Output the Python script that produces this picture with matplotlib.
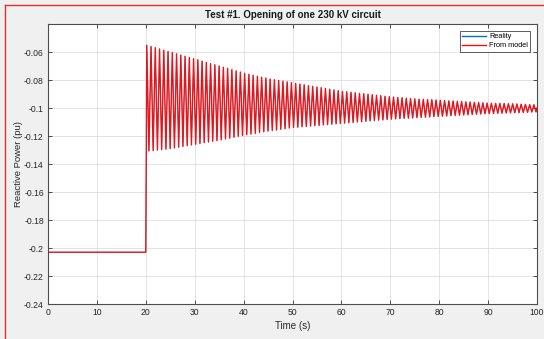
import matplotlib
matplotlib.use("Agg")
import matplotlib.pyplot as plt
from matplotlib.lines import Line2D

plt.rcParams['font.family'] = ['Liberation Sans', 'DejaVu Sans']

# Steady state before the circuit opens
pre_time = [0.0, 20.0]
pre_value = [-0.203, -0.203]

# Oscillation after the opening: one crest and one trough per swing
swing_start = 20.2     # time of the first crest (s)
swing_period = 0.87    # seconds per swing
end_time = 100.0
end_value = -0.1000

crest_values = [
    -0.0552, -0.0561, -0.0569, -0.0578, -0.0587, -0.0596,
    -0.0604, -0.0613, -0.0622, -0.0630, -0.0639, -0.0648,
    -0.0656, -0.0665, -0.0674, -0.0683, -0.0691, -0.0700,
    -0.0709, -0.0717, -0.0726, -0.0735, -0.0743,
    -0.0752, -0.0759, -0.0766, -0.0773, -0.0780, -0.0786,
    -0.0793, -0.0798, -0.0803, -0.0808, -0.0813, -0.0819,
    -0.0824, -0.0829, -0.0834, -0.0840, -0.0845,
    -0.0850, -0.0855, -0.0860, -0.0866, -0.0871, -0.0876,
    -0.0881, -0.0884, -0.0888, -0.0891, -0.0895, -0.0898,
    -0.0902, -0.0905, -0.0909, -0.0912, -0.0916, -0.0919,
    -0.0922, -0.0925, -0.0927, -0.0930, -0.0932, -0.0935,
    -0.0937, -0.0938, -0.0940, -0.0941, -0.0943,
    -0.0945, -0.0947, -0.0949, -0.0950, -0.0952, -0.0953,
    -0.0956, -0.0958, -0.0959, -0.0961, -0.0963, -0.0965,
    -0.0966, -0.0967, -0.0967, -0.0968, -0.0969, -0.0970,
    -0.0971, -0.0973, -0.0974, -0.0976, -0.0977,
]

trough_values = [
    -0.1307, -0.1304, -0.1300, -0.1297, -0.1294, -0.1290,
    -0.1285, -0.1280, -0.1274, -0.1269, -0.1264, -0.1259,
    -0.1254, -0.1248, -0.1243, -0.1238, -0.1233, -0.1227,
    -0.1221, -0.1215, -0.1209, -0.1202, -0.1197,
    -0.1191, -0.1186, -0.1181, -0.1175, -0.1170, -0.1165,
    -0.1161, -0.1157, -0.1152, -0.1148, -0.1143, -0.1139,
    -0.1137, -0.1134, -0.1132, -0.1129, -0.1126,
    -0.1124, -0.1121, -0.1118, -0.1116, -0.1113, -0.1111,
    -0.1108, -0.1105, -0.1103, -0.1100, -0.1098, -0.1095,
    -0.1092, -0.1090, -0.1087, -0.1085, -0.1082, -0.1080,
    -0.1078, -0.1076, -0.1074, -0.1073, -0.1071, -0.1069,
    -0.1067, -0.1066, -0.1064, -0.1062, -0.1060,
    -0.1059, -0.1057, -0.1055, -0.1053, -0.1052, -0.1050,
    -0.1048, -0.1046, -0.1045, -0.1043, -0.1041, -0.1040,
    -0.1039, -0.1038, -0.1037, -0.1036, -0.1035, -0.1034,
    -0.1033, -0.1032, -0.1031, -0.1029, -0.1028,
]

x_ticks = [0, 10, 20, 30, 40, 50, 60, 70, 80, 90, 100]
y_ticks = [-0.24, -0.22, -0.2, -0.18, -0.16, -0.14, -0.12, -0.1, -0.08, -0.06]
y_tick_labels = ['-0.24', '-0.22', '-0.2', '-0.18', '-0.16', '-0.14',
                 '-0.12', '-0.1', '-0.08', '-0.06']

# Assemble the time series: flat part, then alternating crest/trough
time = list(pre_time)
value = list(pre_value)
for i, (c, t) in enumerate(zip(crest_values, trough_values)):
    tc = swing_start + i * swing_period
    time += [tc, tc + swing_period / 2]
    value += [c, t]
time.append(end_time)
value.append(end_value)

reality_time, reality_value = time, value
model_time, model_value = time, value

BLUE = '#0072bd'
RED = '#e8141a'
AX_COLOR = '#4d4d4d'

fig = plt.figure(figsize=(5.44, 3.39), dpi=100, facecolor='#f0f0f0')
ax = fig.add_axes([48 / 544, 1 - 304 / 339, (537 - 48) / 544, (304 - 24) / 339])
ax.set_facecolor('white')

# Measured trace sits underneath; the model trace covers it
ax.plot(reality_time, reality_value, color=BLUE, lw=0.35)
ax.plot(model_time, model_value, color=RED, lw=1.0)

ax.set_xlim(0, 100)
ax.set_ylim(-0.24, -0.04)
ax.set_xticks(x_ticks)
ax.set_xticklabels([str(v) for v in x_ticks])
ax.set_yticks(y_ticks)
ax.set_yticklabels(y_tick_labels)

ax.grid(True, color='#dedede', lw=0.6)
ax.set_axisbelow(True)
for s in ax.spines.values():
    s.set_color(AX_COLOR)
    s.set_linewidth(0.8)
ax.tick_params(direction='in', length=3, width=0.7, color=AX_COLOR,
               labelcolor='#262626', labelsize=6.2, top=True, right=True, pad=3)

ax.set_title('Test #1. Opening of one 230 kV circuit', fontsize=7.0,
             fontweight='bold', color='#1a1a1a', pad=4)
ax.set_xlabel('Time (s)', fontsize=7.0, color='#262626', labelpad=3)
ax.set_ylabel('Reactive Power (pu)', fontsize=6.8, color='#262626', labelpad=1)

handles = [Line2D([], [], color=BLUE, lw=1.0), Line2D([], [], color=RED, lw=1.0)]
leg = ax.legend(handles, ['Reality', 'From model'], loc='upper right',
                fontsize=5.3, frameon=True, fancybox=False, borderpad=0.35,
                handlelength=3.2, handletextpad=0.4, labelspacing=0.25,
                borderaxespad=0.9)
leg.get_frame().set_edgecolor('#333333')
leg.get_frame().set_linewidth(0.7)

# Red window frame along the left and top edges
fig.add_artist(Line2D([4.5 / 544, 4.5 / 544], [0, 1 - 5 / 339],
                      transform=fig.transFigure, color='#e03030', lw=1.0))
fig.add_artist(Line2D([4.5 / 544, 1], [1 - 5 / 339, 1 - 5 / 339],
                      transform=fig.transFigure, color='#e03030', lw=1.0))

fig.savefig('out.png', dpi=100, facecolor=fig.get_facecolor())
